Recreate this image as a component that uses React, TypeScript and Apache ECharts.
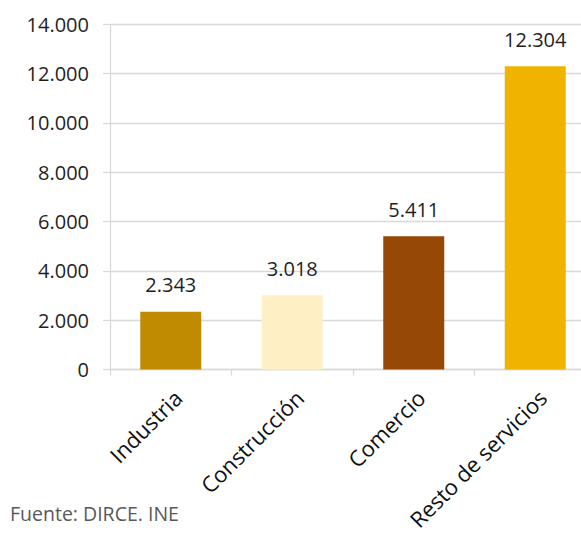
import React, { useEffect, useRef } from "react";
import * as echarts from "echarts";

const categories = ["Industria", "Construcción", "Comercio", "Resto de servicios"];
const values = [2343, 3018, 5411, 12304];
const barColors = ["#C18B00", "#FFEFC4", "#964806", "#EFB300"];
const yTicks = { min: 0, max: 14000, interval: 2000 };
const sourceNote = "Fuente: DIRCE. INE";

const fmt = (v: number) => String(Math.round(v)).replace(/\B(?=(\d{3})+(?!\d))/g, ".");

export default function App() {
  const ref = useRef<HTMLDivElement>(null);
  useEffect(() => {
    if (!ref.current) return;
    const chart = echarts.init(ref.current, null, { renderer: "svg" });
    const font = "'Open Sans', 'Noto Sans', sans-serif";
    chart.setOption({
      animation: false,
      textStyle: { fontFamily: font },
      grid: { left: 110, right: 4, top: 24.3, bottom: 165.4, containLabel: false },
      xAxis: {
        type: "category",
        data: categories,
        axisLine: { show: true, lineStyle: { color: "#D9D9D9", width: 1.3 } },
        axisTick: { show: true, length: 6, lineStyle: { color: "#D9D9D9", width: 1.3 } },
        axisLabel: {
          rotate: 45,
          margin: 31,
          padding: [0, -10, 0, 0],
          fontSize: 22,
          color: "#111111",
          fontFamily: font,
          interval: 0,
        },
      },
      yAxis: {
        type: "value",
        min: yTicks.min,
        max: yTicks.max,
        interval: yTicks.interval,
        axisLine: { show: true, lineStyle: { color: "#D9D9D9", width: 1.3 } },
        axisTick: { show: true, length: 7, lineStyle: { color: "#D9D9D9", width: 1.3 } },
        splitLine: { show: true, lineStyle: { color: "#D9D9D9", width: 1.3 } },
        axisLabel: {
          margin: 21,
          fontSize: 20,
          color: "#1F1F1F",
          fontFamily: font,
          formatter: (v: number) => fmt(v),
        },
      },
      series: [
        {
          type: "bar",
          barWidth: 61,
          data: values.map((v, i) => ({ value: v, itemStyle: { color: barColors[i] } })),
          label: {
            show: true,
            position: "top",
            distance: 17,
            fontSize: 20,
            color: "#1F1F1F",
            fontFamily: font,
            formatter: (p: any) => fmt(p.value),
          },
        },
      ],
      graphic: [
        {
          type: "text",
          left: 10,
          top: 503,
          style: { text: sourceNote, fontSize: 19.5, fill: "#595959", fontFamily: font },
        },
      ],
    });
    return () => chart.dispose();
  }, []);
  return (
    <div
      style={{ position: "absolute", left: 0, top: 0, width: 581, height: 535, overflow: "hidden", background: "#fff" }}
    >
      <div ref={ref} style={{ position: "absolute", left: 0, top: 0, width: 600, height: 535 }} />
    </div>
  );
}
